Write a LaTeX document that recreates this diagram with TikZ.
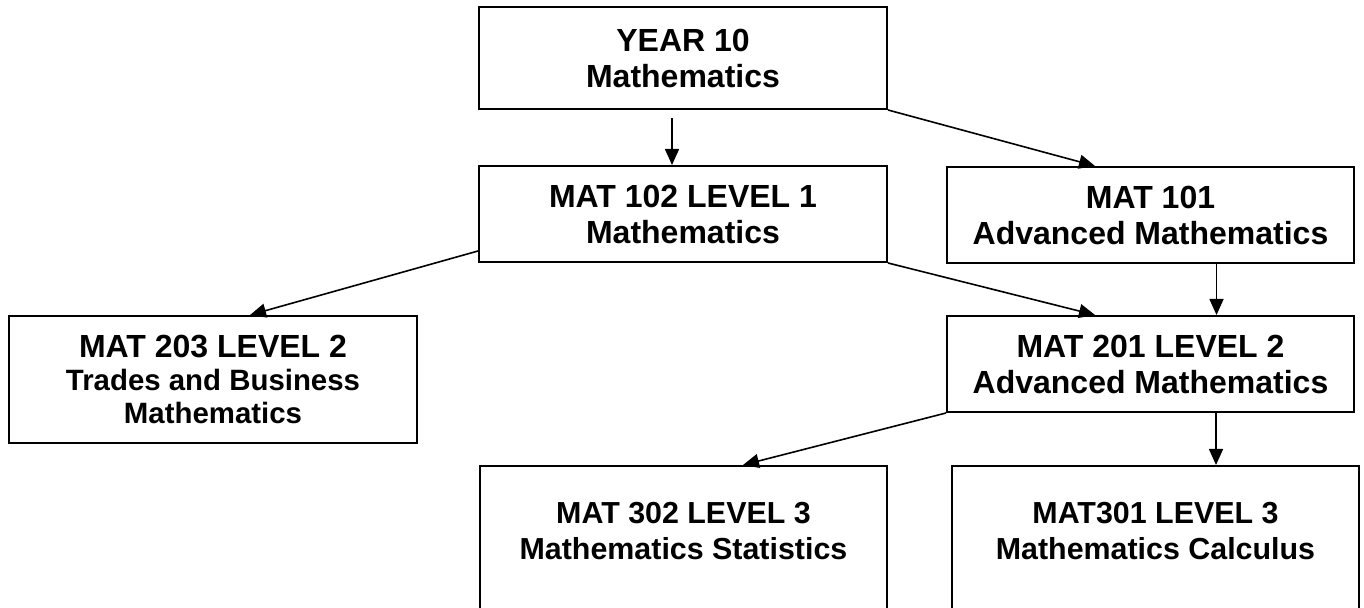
\documentclass[tikz,border=0pt]{standalone}
\usepackage{fontspec}
\setmainfont{Liberation Sans}
\usetikzlibrary{arrows.meta}
\tikzstyle{course}=[draw,line width=1pt,align=center,inner sep=0pt,minimum width=203.5pt,minimum height=48pt,font=\bfseries\fontsize{16}{18}\selectfont]
\tikzstyle{lower}=[course,anchor=north,inner ysep=18pt,text depth=60pt,font=\bfseries\fontsize{15.2}{18}\selectfont]
\tikzstyle{link}=[-{Triangle[length=8pt,width=7pt]},line width=0.8pt]

\begin{document}
\begin{tikzpicture}[x=0.5pt,y=-0.5pt]
	\path[use as bounding box,clip] (0,0) rectangle (1364,608);
	\node(year10)[course,minimum width=204pt,minimum height=51pt] at (683,58){YEAR 10\\Mathematics};
	\node(mat102)[course,minimum width=204pt] at (683,214){MAT 102 LEVEL 1\\Mathematics};
	\node(mat101)[course] at (1150.5,215){MAT 101\\Advanced Mathematics};
	\node(mat203)[course,minimum width=204pt,minimum height=63.5pt,font=\bfseries\fontsize{16}{16.5}\selectfont] at (213,379.5){MAT 203 LEVEL 2\\{\fontsize{14.7}{16.5}\selectfont Trades and Business}\\{\fontsize{14.7}{16.5}\selectfont Mathematics}};
	\node(mat201)[course] at (1150.5,364){MAT 201 LEVEL 2\\Advanced Mathematics};
	% bottom row runs off the page
	\node(mat302)[lower] at (683.5,465){MAT 302 LEVEL 3\\Mathematics Statistics};
	\node(mat301)[lower] at (1155.5,465){MAT301 LEVEL 3\\Mathematics Calculus};

	\draw[link] ([xshift=-5.5pt,yshift=-4pt]year10.south) -- ([xshift=-5.5pt]mat102.north);
	\draw[link] (year10.south east) -- ([xshift=-27.75pt]mat101.north);
	\draw[link] ([xshift=33pt]mat101.south) -- ([xshift=33pt]mat201.north);
	\draw[link] (mat102.south east) -- ([xshift=-27.75pt]mat201.north);
	\draw[link] ([yshift=6pt]mat102.south west) -- ([xshift=18.5pt]mat203.north);
	\draw[link] (mat201.south west) -- ([xshift=29.75pt]mat302.north);
	\draw[link] ([xshift=32.75pt]mat201.south) -- ([xshift=32.75pt]mat201.south |- mat301.north);
\end{tikzpicture}
\end{document}
